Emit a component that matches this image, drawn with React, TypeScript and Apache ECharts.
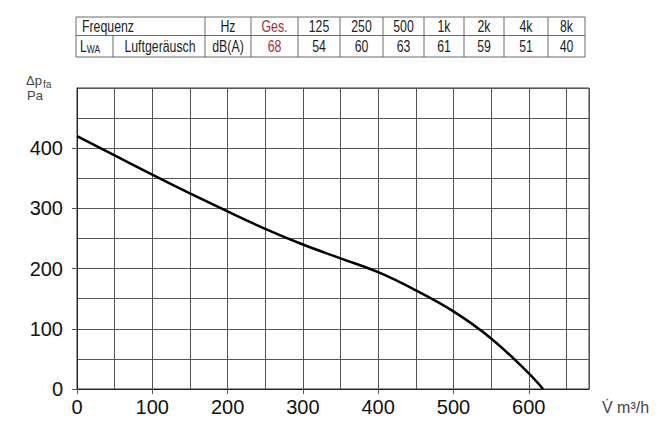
import React, { useEffect, useRef } from "react";
import * as echarts from "echarts";

// Fan curve: volume flow (m³/h) vs. pressure (Pa)
const flow = [0, 50, 100, 150, 200, 250, 300, 350, 400, 450, 500, 550, 600, 619];
const pressure = [420, 388, 356, 325, 295, 266, 240, 217, 194, 164, 129, 84, 26, 0];

const xTickLabels = [0, 100, 200, 300, 400, 500, 600];
const yTickLabels = [0, 100, 200, 300, 400];

// Sound table
const freqLabels = ["Ges.", "125", "250", "500", "1k", "2k", "4k", "8k"];
const soundLevels = [68, 54, 60, 63, 61, 59, 51, 40];

const NARROW = "'Liberation Sans', Arial, Helvetica, sans-serif";
const SANS = "'Liberation Sans', Arial, Helvetica, sans-serif";
const RED = "#a8283d";

function buildTable(): any[] {
  const colX = [76, 205, 251, 298, 340, 383, 424, 464, 504, 548, 585];
  const rowY = [17, 35.5, 57];
  const lineStyle = { stroke: "#6a6a6a", lineWidth: 1 };
  const els: any[] = [];
  rowY.forEach((y) =>
    els.push({ type: "line", shape: { x1: colX[0], y1: y, x2: colX[colX.length - 1], y2: y }, style: lineStyle, silent: true })
  );
  colX.forEach((x) =>
    els.push({ type: "line", shape: { x1: x, y1: rowY[0], x2: x, y2: rowY[2] }, style: lineStyle, silent: true })
  );
  els.push({ type: "line", shape: { x1: 113, y1: rowY[1], x2: 113, y2: rowY[2] }, style: lineStyle, silent: true });

  const c1 = (rowY[0] + rowY[1]) / 2 + 0.5;
  const c2 = (rowY[1] + rowY[2]) / 2 + 0.5;
  const txt = (text: string, x: number, y: number, align: string, color = "#222", size = 16) => ({
    type: "text",
    x,
    y,
    scaleX: 0.77,
    silent: true,
    style: { text, fill: color, font: `${size}px ${NARROW}`, textAlign: align, textVerticalAlign: "middle" },
  });
  els.push(txt("Frequenz", 82, c1, "left"));
  els.push(txt("Hz", (colX[1] + colX[2]) / 2, c1, "center"));
  els.push({
    type: "text",
    x: 80,
    y: c2,
    scaleX: 0.77,
    silent: true,
    style: {
      text: "{l|L}{s|WA}",
      textVerticalAlign: "middle",
      rich: {
        l: { fontSize: 16, fontFamily: NARROW, fill: "#222", color: "#222", verticalAlign: "bottom" },
        s: { fontSize: 11, fontFamily: NARROW, fill: "#222", color: "#222", verticalAlign: "bottom" },
      },
    },
  });
  els.push(txt("Luftgeräusch", (113 + colX[1]) / 2 + 1, c2, "center"));
  els.push(txt("dB(A)", (colX[1] + colX[2]) / 2, c2, "center"));
  freqLabels.forEach((f, i) => {
    const cx = (colX[i + 2] + colX[i + 3]) / 2;
    const col = i === 0 ? RED : "#222";
    els.push(txt(f, cx, c1, "center", col));
    els.push(txt(String(soundLevels[i]), cx, c2, "center", col));
  });
  return els;
}

const gridLine = { show: true, lineStyle: { color: "#555", width: 1 } };

export default function App() {
  const ref = useRef<HTMLDivElement>(null);
  useEffect(() => {
    if (!ref.current) return;
    const chart = echarts.init(ref.current, undefined, { renderer: "svg" });
    chart.setOption({
      animation: false,
      backgroundColor: "#ffffff",
      grid: { left: 77, right: 76, top: 88, bottom: 45, show: true, borderColor: "#333", borderWidth: 1 },
      xAxis: [
        {
          type: "value",
          position: "bottom",
          min: 0,
          max: 680,
          interval: 50,
          axisLine: { show: true, lineStyle: { color: "#222", width: 1 } },
          axisTick: { show: true, length: 5, customValues: xTickLabels, lineStyle: { color: "#555" } },
          axisLabel: { customValues: xTickLabels, color: "#111", fontSize: 20, fontFamily: SANS, margin: 8 },
          splitLine: { show: false },
        },
        {
          type: "value",
          position: "top",
          min: 0,
          max: 680,
          interval: 50,
          axisLine: { show: false },
          axisTick: { show: false },
          axisLabel: { show: false },
          splitLine: gridLine,
        },
      ],
      yAxis: [
        {
          type: "value",
          position: "left",
          min: 0,
          max: 500,
          interval: 50,
          axisLine: { show: true, lineStyle: { color: "#222", width: 1 } },
          axisTick: { show: true, length: 5, customValues: yTickLabels, lineStyle: { color: "#555" } },
          axisLabel: { customValues: yTickLabels, color: "#111", fontSize: 20, fontFamily: SANS, margin: 14 },
          splitLine: { show: false },
        },
        {
          type: "value",
          position: "right",
          min: 0,
          max: 500,
          interval: 50,
          axisLine: { show: false },
          axisTick: { show: false },
          axisLabel: { show: false },
          splitLine: gridLine,
        },
      ],
      series: [
        {
          type: "line",
          xAxisIndex: 0,
          yAxisIndex: 0,
          data: flow.map((f, i) => [f, pressure[i]]),
          smooth: 0.4,
          showSymbol: false,
          lineStyle: { color: "#000", width: 2.5 },
          silent: true,
          z: 5,
        },
      ],
      graphic: [
        ...buildTable(),
        { type: "text", x: 26, y: 80, silent: true, style: { text: "Δp", fill: "#444", font: `13px ${SANS}`, textVerticalAlign: "middle" } },
        { type: "text", x: 43, y: 84, silent: true, style: { text: "fa", fill: "#444", font: `10px ${SANS}`, textVerticalAlign: "middle" } },
        { type: "text", x: 27, y: 95, silent: true, style: { text: "Pa", fill: "#444", font: `13px ${SANS}`, textVerticalAlign: "middle" } },
        { type: "text", x: 602, y: 407, silent: true, style: { text: "V̇ m³/h", fill: "#444", font: `16px ${SANS}`, textVerticalAlign: "middle" } },
      ],
    });
    return () => chart.dispose();
  }, []);
  return <div ref={ref} style={{ position: "fixed", left: 0, top: 0, width: 665, height: 434 }} />;
}
